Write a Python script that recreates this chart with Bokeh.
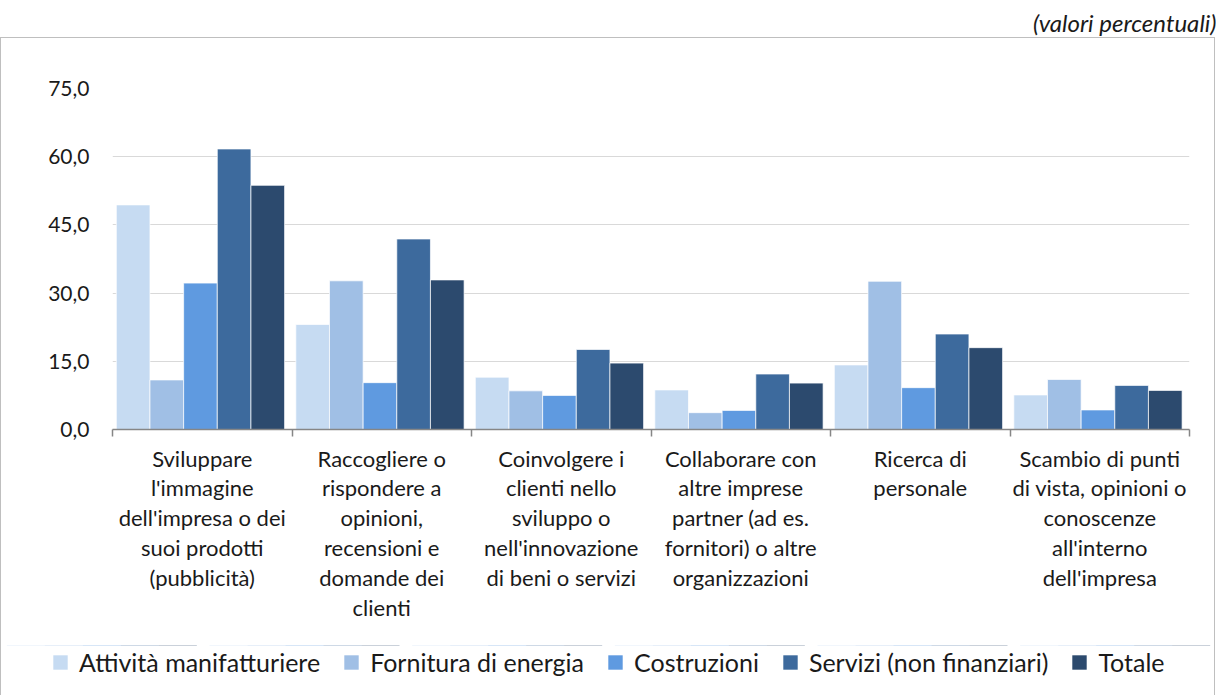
import numpy as np
from bokeh.plotting import figure
from bokeh.models import (ColumnDataSource, FixedTicker, Range1d, Legend, LegendItem,
                          Title, InlineStyleSheet)
from bokeh.transform import dodge
from bokeh.embed import file_html
from bokeh.resources import INLINE

categories = [
    "Sviluppare\nl'immagine\ndell'impresa o dei\nsuoi prodotti\n(pubblicità)",
    "Raccogliere o\nrispondere a\nopinioni,\nrecensioni e\ndomande dei\nclienti",
    "Coinvolgere i\nclienti nello\nsviluppo o\nnell'innovazione\ndi beni o servizi",
    "Collaborare con\naltre imprese\npartner (ad es.\nfornitori) o altre\norganizzazioni",
    "Ricerca di\npersonale",
    "Scambio di punti\ndi vista, opinioni o\nconoscenze\nall'interno\ndell'impresa",
]
series_names = ["Attività manifatturiere", "Fornitura di energia", "Costruzioni",
                "Servizi (non finanziari)", "Totale"]
manifatturiere = [49.4, 23.1, 11.5, 8.7, 14.2, 7.6]
energia = [10.9, 32.7, 8.5, 3.7, 32.6, 11.0]
costruzioni = [32.2, 10.3, 7.5, 4.2, 9.2, 4.3]
servizi = [61.7, 41.9, 17.6, 12.2, 21.0, 9.7]
totale = [53.7, 32.9, 14.6, 10.2, 18.0, 8.6]
y_ticks = [0, 15, 30, 45, 60, 75]
y_tick_labels = ["0,0", "15,0", "30,0", "45,0", "60,0", "75,0"]
subtitle = "(valori percentuali)"

colors = ["#c6dbf2", "#a0bfe5", "#5f9ae0", "#3d6a9d", "#2c4a6e"]
FONT = "Lato"
TXT = "#1a1a1a"
BORDER = "#bfbfbf"

n = len(categories)
centers = np.arange(n) + 0.5
src = ColumnDataSource(dict(xc=centers, m=manifatturiere, e=energia, c=costruzioni,
                            s=servizi, t=totale))
cols = ["m", "e", "c", "s", "t"]
bw = 0.1875
offsets = [-2 * bw, -bw, 0, bw, 2 * bw]

H1 = 645
p = figure(width=1216, height=H1, output_backend="svg", toolbar_location=None,
           x_range=Range1d(0, n), y_range=Range1d(0, 75),
           min_border_left=112, min_border_right=27, min_border_top=88,
           min_border_bottom=H1 - 429)
p.outline_line_color = None
p.xgrid.grid_line_color = None
p.ygrid.grid_line_color = "#d9d9d9"
p.ygrid.grid_line_width = 1

for col, off, colr in zip(cols, offsets, colors):
    p.vbar(x=dodge("xc", off - 0.01, range=p.x_range), top=col, width=bw, bottom=0,
           source=src, fill_color=colr, line_color="white", line_alpha=0.7, line_width=1)

# y axis
p.yaxis.ticker = FixedTicker(ticks=y_ticks)
p.yaxis.major_label_overrides = dict(zip(y_ticks, y_tick_labels))
p.yaxis.axis_line_color = None
p.yaxis.major_tick_line_color = None
p.yaxis.minor_tick_line_color = None
p.yaxis.major_tick_out = 0
p.yaxis.major_label_standoff = 23
p.yaxis.major_label_text_font = FONT
p.yaxis.major_label_text_font_size = "21px"
p.yaxis.major_label_text_color = TXT
p.ygrid.ticker = FixedTicker(ticks=y_ticks[1:])

# x axis
p.xaxis.ticker = FixedTicker(ticks=list(centers), minor_ticks=list(range(n + 1)))
p.xaxis.major_label_overrides = {float(c): lab for c, lab in zip(centers, categories)}
p.xaxis.axis_line_color = "#868686"
p.xaxis.axis_line_width = 1.5
p.xaxis.major_tick_line_color = None
p.xaxis.major_tick_out = 0
p.xaxis.minor_tick_line_color = "#868686"
p.xaxis.minor_tick_line_width = 1.5
p.xaxis.minor_tick_out = 7
p.xaxis.minor_tick_in = 0
p.xaxis.major_label_standoff = 8
p.xaxis.major_label_text_font = FONT
p.xaxis.major_label_text_font_size = "22px"
p.xaxis.major_label_text_line_height = 1.11
p.xaxis.major_label_text_color = TXT

spacer = Title(text=" ", text_font_size="43px", standoff=0)
p.add_layout(spacer, "above")
p.add_layout(Title(text=subtitle, align="right", offset=-27, vertical_align="top",
                   standoff=0, text_font=FONT, text_font_style="italic",
                   text_font_size="24px", text_color=TXT), "above")

p.stylesheets = [InlineStyleSheet(css=(
    ":host { position: relative; }"
    ":host::after { content: ''; position: absolute; left: 0px; top: 37px; width: 1215px;"
    f" height: {H1 - 37}px; border: 1px solid {BORDER}; border-bottom: none; box-sizing: border-box;"
    " pointer-events: none; }"))]

# legend strip (separate root so its frame spans the full width)
H2 = 695 - H1
q = figure(width=1216, height=H2, output_backend="svg", toolbar_location=None,
           x_range=Range1d(0, n), y_range=Range1d(-2, -1),
           min_border_left=0, min_border_right=0, min_border_top=0, min_border_bottom=0,
           x_axis_type=None, y_axis_type=None)
q.outline_line_color = None
q.xgrid.grid_line_color = None
q.ygrid.grid_line_color = None
q.title.visible = False
legend_renderers = []
for col, off, colr in zip(cols, offsets, colors):
    # same series, outside the strip's visible range: only their legend swatches show
    legend_renderers.append(q.vbar(x=dodge("xc", off, range=q.x_range), top=col, width=bw,
                                   bottom=0, source=src, fill_color=colr, line_color=None))
legend = Legend(items=[LegendItem(label=nm, renderers=[r]) for nm, r in zip(series_names, legend_renderers)],
                orientation="horizontal", location=(51, 18), glyph_width=18, glyph_height=18,
                label_standoff=10, spacing=22, padding=0, margin=0,
                label_text_font=FONT, label_text_font_size="25px", label_text_color=TXT,
                border_line_color=None, background_fill_alpha=0)
q.add_layout(legend, "center")
q.stylesheets = [InlineStyleSheet(css=(
    ":host { position: relative; }"
    ":host::after { content: ''; position: absolute; left: 0px; top: 0px; width: 1215px;"
    f" height: {H2}px; border-left: 1px solid {BORDER}; border-right: 1px solid {BORDER};"
    " box-sizing: border-box; pointer-events: none; }"))]

open("out.html", "w").write(file_html([p, q], INLINE))
